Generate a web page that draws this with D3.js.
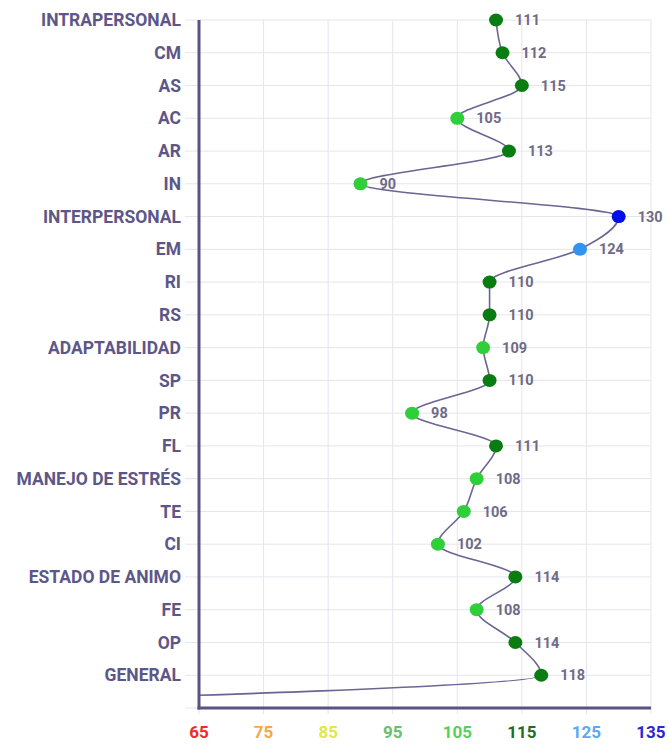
<!DOCTYPE html>
<meta charset="utf-8">
<style>
  body { margin: 0; background: #fff; }
  svg { display: block; font-family: Roboto, "Noto Sans", sans-serif; }
  .grid line { stroke: #e6e4ec; stroke-width: 1; }
  .ylab { fill: #5d5788; font-size: 17.5px; font-weight: 700; }
  .xlab { font-size: 17px; font-weight: 700; }
  .val { fill: #6f6b86; font-size: 14.5px; font-weight: 700; }
</style>
<body>
<script src="https://cdn.jsdelivr.net/npm/d3@7"></script>
<script>
// categories, top to bottom (last one is the empty closing row)
const categories = ['INTRAPERSONAL', 'CM', 'AS', 'AC', 'AR', 'IN', 'INTERPERSONAL', 'EM', 'RI', 'RS',
  'ADAPTABILIDAD', 'SP', 'PR', 'FL', 'MANEJO DE ESTRÉS', 'TE', 'CI', 'ESTADO DE ANIMO', 'FE', 'OP', 'GENERAL', ''];
const scores = [111, 112, 115, 105, 113, 90, 130, 124, 110, 110, 109, 110, 98, 111, 108, 106, 102, 114, 108, 114, 118, 0];
const xTicks = [65, 75, 85, 95, 105, 115, 125, 135];
const tickColors = ['#f2282b', '#f5a84a', '#e3e845', '#67c26a', '#58cf5c', '#1f6e25', '#5aa9f2', '#2a25d6'];

const width = 669, height = 745;
const margin = {top: 20, right: 18, bottom: 37, left: 199};

const svg = d3.select('body').append('svg')
  .attr('width', width)
  .attr('height', height);

const x = d3.scaleLinear().domain([65, 135]).range([margin.left, width - margin.right]);
const y = d3.scalePoint().domain(categories).range([margin.top, height - margin.bottom]);

function dotColor(v) {
  if (v >= 130) return '#0010e8';
  if (v >= 120) return '#2f95f0';
  if (v >= 110) return '#0a7d12';
  return '#2fcf3a';
}

// grid
const grid = svg.append('g').attr('class', 'grid');
grid.selectAll('.h').data(categories).enter().append('line')
  .attr('x1', margin.left - 14).attr('x2', x(135))
  .attr('y1', d => y(d)).attr('y2', d => y(d));
grid.selectAll('.v').data(xTicks).enter().append('line')
  .attr('x1', d => x(d)).attr('x2', d => x(d))
  .attr('y1', margin.top).attr('y2', y('') + 6);

// y labels
svg.append('g').selectAll('text').data(categories).enter().append('text')
  .attr('class', 'ylab')
  .attr('x', margin.left - 18)
  .attr('y', d => y(d))
  .attr('dy', '0.35em')
  .attr('text-anchor', 'end')
  .text(d => d);

// x labels
svg.append('g').selectAll('text').data(xTicks).enter().append('text')
  .attr('class', 'xlab')
  .attr('x', d => x(d))
  .attr('y', y('') + 24)
  .attr('dy', '0.35em')
  .attr('text-anchor', 'middle')
  .attr('fill', (d, i) => tickColors[i])
  .text(d => d);

// line, clipped to the plot area
svg.append('clipPath').attr('id', 'plot')
  .append('rect')
  .attr('x', margin.left).attr('y', 0)
  .attr('width', x(135) - margin.left).attr('height', y(''));

const pts = categories.map((c, i) => ({c, v: scores[i]}));
const line = d3.line()
  .x(d => x(d.v))
  .y(d => y(d.c))
  .curve(d3.curveMonotoneY);

svg.append('path')
  .datum(pts)
  .attr('clip-path', 'url(#plot)')
  .attr('fill', 'none')
  .attr('stroke', '#6a6592')
  .attr('stroke-width', 1.6)
  .attr('d', line);

// axes lines
svg.append('line')
  .attr('x1', margin.left).attr('x2', margin.left)
  .attr('y1', margin.top).attr('y2', y('') + 1.5)
  .attr('stroke', '#5a5382').attr('stroke-width', 3);
svg.append('line')
  .attr('x1', margin.left - 1.5).attr('x2', x(135))
  .attr('y1', y('')).attr('y2', y(''))
  .attr('stroke', '#5a5382').attr('stroke-width', 3);

// dots and values
const shown = pts.filter(d => d.c !== '');
svg.append('g').selectAll('ellipse').data(shown).enter().append('ellipse')
  .attr('cx', d => x(d.v))
  .attr('cy', d => y(d.c))
  .attr('rx', 7).attr('ry', 6.5)
  .attr('fill', d => dotColor(d.v));

svg.append('g').selectAll('text').data(shown).enter().append('text')
  .attr('class', 'val')
  .attr('x', d => x(d.v) + 19)
  .attr('y', d => y(d.c))
  .attr('dy', '0.35em')
  .text(d => d.v);
</script>
</body>
</html>
